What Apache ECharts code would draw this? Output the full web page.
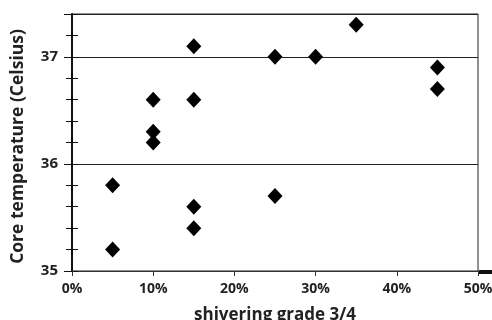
<!DOCTYPE html>
<html>
<head>
<meta charset="utf-8">
<script src="https://cdn.jsdelivr.net/npm/echarts@6/dist/echarts.min.js"></script>
<style>
  html, body { margin: 0; padding: 0; background: #fff; }
  #chart { width: 492px; height: 320px; }
</style>
</head>
<body>
<div id="chart"></div>
<script>
  var shivering = [0.05, 0.05, 0.10, 0.10, 0.10, 0.15, 0.15, 0.15, 0.15, 0.25, 0.25, 0.30, 0.35, 0.45, 0.45];
  var coreTemp = [35.8, 35.2, 36.6, 36.3, 36.2, 37.1, 36.6, 35.6, 35.4, 37.0, 35.7, 37.0, 37.3, 36.9, 36.7];

  var points = [];
  for (var i = 0; i < shivering.length; i++) {
    points.push([shivering[i], coreTemp[i]]);
  }

  var font = '"Open Sans", "DejaVu Sans", sans-serif';
  var chart = echarts.init(document.getElementById('chart'));

  var option = {
    animation: false,
    grid: {
      left: 72, right: 14, top: 14, bottom: 49,
      outerBoundsMode: 'none',
      containLabel: false,
      show: true, borderColor: '#222', borderWidth: 1
    },
    xAxis: {
      type: 'value',
      min: 0, max: 0.5, interval: 0.1,
      name: 'shivering grade 3/4',
      nameLocation: 'middle',
      nameGap: 36,
      nameTextStyle: { fontFamily: font, fontWeight: 'bold', fontSize: 17, color: '#222' },
      axisLine: { lineStyle: { color: '#333', width: 1 } },
      axisTick: { show: true, length: 5, lineStyle: { color: '#333' } },
      splitLine: { show: false },
      axisLabel: {
        margin: 11,
        fontFamily: font, fontWeight: 'bold', fontSize: 14, color: '#222',
        formatter: function (v) { return Math.round(v * 100) + '%'; }
      }
    },
    yAxis: [
      {
        type: 'value',
        position: 'left',
        min: 35, max: 37.4, interval: 1,
        name: 'Core temperature (Celsius)',
        nameLocation: 'middle',
        nameGap: 45,
        nameTextStyle: {
          fontFamily: font, fontWeight: 'bold', fontSize: 17.5, color: '#222',
          padding: [0, 8, 0, 0]
        },
        axisLine: { show: true, lineStyle: { color: '#111', width: 2 } },
        axisTick: { show: true, length: 8, lineStyle: { color: '#111' } },
        splitLine: { show: true, lineStyle: { color: '#222', width: 1 } },
        axisLabel: {
          margin: 14,
          fontFamily: font, fontWeight: 'bold', fontSize: 15, color: '#222',
          formatter: function (v) { return Math.abs(v - Math.round(v)) < 0.001 ? String(Math.round(v)) : ''; }
        }
      },
      {
        type: 'value',
        position: 'left',
        min: 35, max: 37.4, interval: 0.2,
        axisLine: { show: false },
        axisTick: { show: true, length: 6, lineStyle: { color: '#111' } },
        splitLine: { show: false },
        axisLabel: { show: false }
      },
      {
        type: 'value',
        position: 'left',
        min: 35, max: 37.4, interval: 0.2,
        axisLine: { show: false },
        axisTick: { show: true, inside: true, length: 6, lineStyle: { color: '#111' } },
        splitLine: { show: false },
        axisLabel: { show: false }
      }
    ],
    graphic: [
      {
        type: 'rect',
        shape: { x: 479, y: 270, width: 13, height: 4 },
        style: { fill: '#111' }
      }
    ],
    series: [
      {
        type: 'scatter',
        yAxisIndex: 0,
        symbol: 'diamond',
        symbolSize: [15, 16],
        itemStyle: { color: '#000', opacity: 1 },
        data: points
      }
    ]
  };

  chart.setOption(option);
</script>
</body>
</html>
